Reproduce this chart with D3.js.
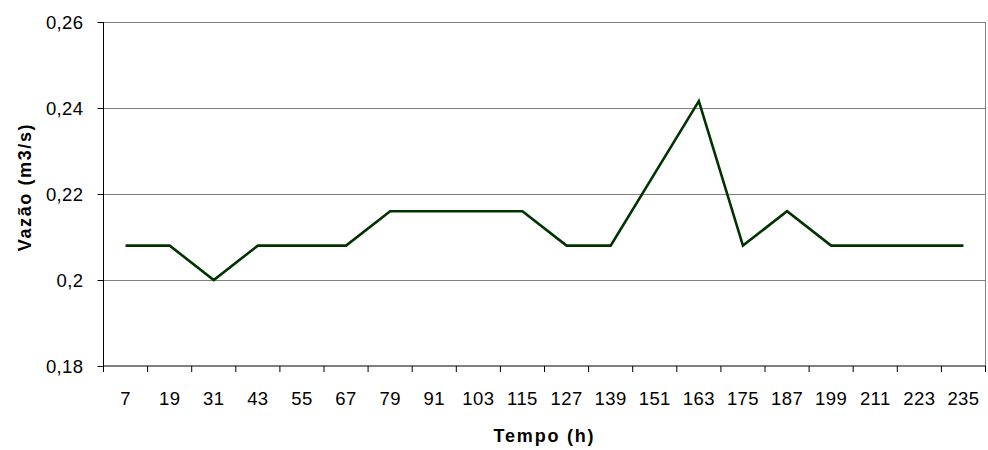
<!DOCTYPE html>
<html>
<head>
<meta charset="utf-8">
<script src="https://cdn.jsdelivr.net/npm/d3@7"></script>
<style>
  html, body { margin: 0; padding: 0; background: #fff; }
  svg { display: block; }
  text { font-family: "Liberation Sans", Arial, sans-serif; fill: #000; }
</style>
</head>
<body>
<svg id="chart" width="988" height="450"></svg>
<script>
const categories = ["7","19","31","43","55","67","79","91","103","115","127","139","151","163","175","187","199","211","223","235"];
const vazao = [0.208,0.208,0.200,0.208,0.208,0.208,0.216,0.216,0.216,0.216,0.208,0.208,0.2248,0.2416,0.208,0.216,0.208,0.208,0.208,0.208];
const yTicks = [0.18,0.20,0.22,0.24,0.26];
const xTitle = "Tempo (h)";
const yTitle = "Vazão (m3/s)";

const svg = d3.select("#chart");
const margin = {left: 103.5, right: 2.5, top: 22, bottom: 84};
const W = 988, H = 450;
const x = d3.scaleBand().domain(categories).range([margin.left, W - margin.right]);
const y = d3.scaleLinear().domain([0.18, 0.26]).range([H - margin.bottom, margin.top]);
const fmt = v => d3.format(".2~f")(v).replace(".", ",");

// gridlines
svg.append("g").selectAll("line").data(yTicks.filter(d => d > 0.18)).join("line")
  .attr("x1", margin.left).attr("x2", W - margin.right)
  .attr("y1", d => Math.round(y(d)) + 0.5).attr("y2", d => Math.round(y(d)) + 0.5)
  .attr("stroke", "#808080").attr("stroke-width", 1);
// right border
svg.append("line")
  .attr("x1", W - margin.right).attr("x2", W - margin.right)
  .attr("y1", y(0.26)).attr("y2", y(0.18))
  .attr("stroke", "#808080");

// y axis
const yAxis = svg.append("g").attr("transform", `translate(${margin.left},0)`)
  .call(d3.axisLeft(y).tickValues(yTicks).tickFormat(fmt).tickSize(6).tickPadding(14));
yAxis.select(".domain").attr("stroke", "#000").attr("d", `M0,${y(0.26)}V${y(0.18)}`);
yAxis.selectAll(".tick line").attr("stroke", "#000");
yAxis.selectAll(".tick text").attr("font-size", 18.5).attr("font-family", "Liberation Sans, Arial, sans-serif")
  .attr("letter-spacing", 0.4).attr("dy", "0.36em");

// x axis
const xAxis = svg.append("g").attr("transform", `translate(0,${y(0.18)})`)
  .call(d3.axisBottom(x).tickSize(0).tickPadding(24));
xAxis.select(".domain").attr("stroke", "#000").attr("d", `M${margin.left},0H${W - margin.right}`);
xAxis.selectAll(".tick text").attr("font-size", 18.5).attr("font-family", "Liberation Sans, Arial, sans-serif")
  .attr("letter-spacing", 0.4).attr("dy", "0.71em").attr("y", 25.5);
// boundary ticks
const bounds = categories.map(c => x(c)).concat([x(categories[categories.length-1]) + x.bandwidth()]);
svg.append("g").selectAll("line").data(bounds).join("line")
  .attr("x1", d => d).attr("x2", d => d)
  .attr("y1", y(0.18)).attr("y2", y(0.18) + 6)
  .attr("stroke", "#000");

// line
const line = d3.line()
  .x((d, i) => x(categories[i]) + x.bandwidth() / 2)
  .y(d => y(d));
svg.append("path").datum(vazao)
  .attr("d", line)
  .attr("fill", "none").attr("stroke", "#003300").attr("stroke-width", 2.6)
  .attr("stroke-linejoin", "miter");

// titles
svg.append("text").text(xTitle)
  .attr("x", (margin.left + W - margin.right) / 2).attr("y", 441.5)
  .attr("text-anchor", "middle").attr("font-weight", "bold").attr("font-size", 18)
  .attr("letter-spacing", 1.8);
svg.append("text").text(yTitle)
  .attr("transform", "translate(31,187) rotate(-90)")
  .attr("text-anchor", "middle").attr("font-weight", "bold").attr("font-size", 18)
  .attr("letter-spacing", 1.6);
</script>
</body>
</html>
